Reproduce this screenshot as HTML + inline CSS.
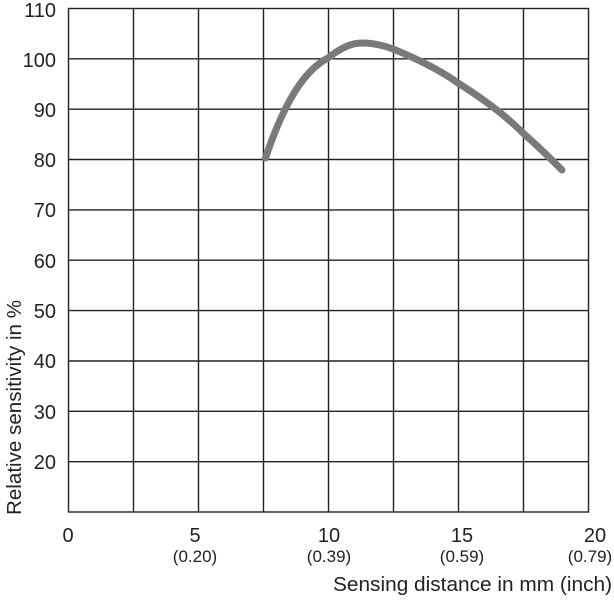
<!DOCTYPE html>
<html><head><meta charset="utf-8"><style>
body{margin:0;background:#fff}
svg{display:block}
text{font-family:"Liberation Sans",sans-serif;fill:#222}
</style></head><body>
<svg width="614" height="600" viewBox="0 0 614 600">
<g stroke="#222" stroke-width="1.4" fill="none">
<rect x="68.5" y="8.5" width="520" height="503.5"/>
<line x1="133.5" y1="8.5" x2="133.5" y2="512"/>
<line x1="198.5" y1="8.5" x2="198.5" y2="512"/>
<line x1="263.5" y1="8.5" x2="263.5" y2="512"/>
<line x1="328.5" y1="8.5" x2="328.5" y2="512"/>
<line x1="393.5" y1="8.5" x2="393.5" y2="512"/>
<line x1="458.5" y1="8.5" x2="458.5" y2="512"/>
<line x1="523.5" y1="8.5" x2="523.5" y2="512"/>
<line x1="68.5" y1="58.8" x2="588.5" y2="58.8"/>
<line x1="68.5" y1="109.2" x2="588.5" y2="109.2"/>
<line x1="68.5" y1="159.5" x2="588.5" y2="159.5"/>
<line x1="68.5" y1="209.9" x2="588.5" y2="209.9"/>
<line x1="68.5" y1="260.2" x2="588.5" y2="260.2"/>
<line x1="68.5" y1="310.6" x2="588.5" y2="310.6"/>
<line x1="68.5" y1="361" x2="588.5" y2="361"/>
<line x1="68.5" y1="411.3" x2="588.5" y2="411.3"/>
<line x1="68.5" y1="461.7" x2="588.5" y2="461.7"/>
</g>
<path d="M265.5,158 C285,100 305,70 328,58 C342,47 352,43 362,43 C375,43 385,46 393,49 C415,58 440,70 458,83 C485,100 505,115 523,133 C540,148 552,160 562,170" fill="none" stroke="#7a7a7b" stroke-width="7" stroke-linecap="round"/>
<g font-size="20" text-anchor="end">
<text x="56" y="17">110</text><text x="56" y="67">100</text><text x="56" y="117">90</text>
<text x="56" y="167">80</text><text x="56" y="217">70</text><text x="56" y="268">60</text>
<text x="56" y="318">50</text><text x="56" y="368">40</text><text x="56" y="419">30</text>
<text x="56" y="469">20</text>
</g>
<g font-size="20" text-anchor="middle">
<text x="68" y="542">0</text><text x="195" y="542">5</text><text x="329" y="542">10</text>
<text x="462" y="542">15</text><text x="595" y="542">20</text>
</g>
<g font-size="17" text-anchor="middle">
<text x="195" y="562">(0.20)</text><text x="329" y="562">(0.39)</text>
<text x="462" y="562">(0.59)</text><text x="590" y="562">(0.79)</text>
</g>
<text x="333" y="591" font-size="20" textLength="279" lengthAdjust="spacingAndGlyphs">Sensing distance in mm (inch)</text>
<text transform="translate(21,515) rotate(-90)" font-size="20" textLength="215" lengthAdjust="spacingAndGlyphs">Relative sensitivity in %</text>
</svg>
</body></html>
